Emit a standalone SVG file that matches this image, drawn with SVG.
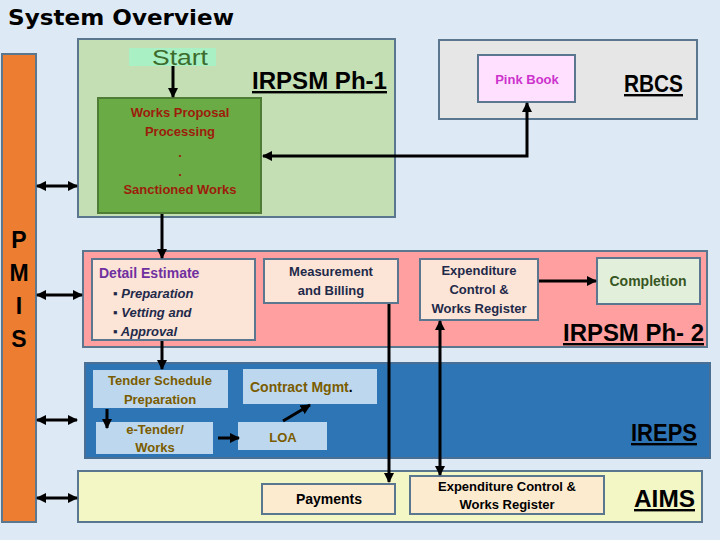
<svg xmlns="http://www.w3.org/2000/svg" width="720" height="540" viewBox="0 0 720 540">
<style>
.t{font-family:"Liberation Sans","Open Sans",sans-serif;font-weight:bold}
.big{font-family:"Liberation Sans",sans-serif;font-size:24px;font-weight:bold;text-decoration:underline;fill:#000}
.bx{stroke:#5b7790;stroke-width:2}
.c{stroke:#000;stroke-width:3;fill:none}
.nv{fill:#1f2a4a;font-size:13px}
.ol{fill:#7a5c00;font-size:13px}
</style>
<defs>
<marker id="ah" viewBox="0 0 10 10" refX="9" refY="5" markerWidth="3.4" markerHeight="3.4" orient="auto-start-reverse">
<path d="M0,0 L10,5 L0,10 z" fill="#000"/>
</marker>
</defs>
<rect width="720" height="540" fill="#dde9f5"/>
<text x="8" y="25" font-family="DejaVu Sans,sans-serif" font-weight="900" font-size="21" textLength="226" lengthAdjust="spacingAndGlyphs" fill="#000">System Overview</text>

<g id="pmis">
<rect x="2" y="54" width="34" height="468" fill="#ed7d31" class="bx"/>
<text class="t" x="19" y="248" font-size="23" text-anchor="middle" fill="#000">P</text>
<text class="t" x="19" y="281" font-size="23" text-anchor="middle" fill="#000">M</text>
<text class="t" x="19" y="314" font-size="23" text-anchor="middle" fill="#000">I</text>
<text class="t" x="19" y="347" font-size="23" text-anchor="middle" fill="#000">S</text>
</g>

<g id="irpsm1">
<rect x="78" y="39" width="317" height="178" fill="#c5dfb4" class="bx"/>
<text class="big" x="252" y="89" font-weight="normal" textLength="135" lengthAdjust="spacingAndGlyphs">IRPSM Ph-1</text>
</g>
<g id="start">
<rect x="129" y="48" width="87" height="18" fill="#a9f1c4"/>
<text x="180" y="65" font-family="Liberation Sans,sans-serif" font-size="22" fill="#3d6b2c" text-anchor="middle" textLength="56" lengthAdjust="spacingAndGlyphs">Start</text>
</g>
<g id="works-proposal">
<rect x="98" y="98" width="163" height="115" fill="#6aab45" stroke="#4f7d36" stroke-width="2"/>
<g class="t" font-size="13" fill="#9c1d0c" text-anchor="middle">
<text x="180" y="117">Works Proposal</text>
<text x="180" y="136">Processing</text>
<text x="180" y="157">.</text>
<text x="180" y="176">.</text>
<text x="180" y="194">Sanctioned Works</text>
</g>
</g>

<g id="rbcs">
<rect x="439" y="40" width="258" height="79" fill="#e6e6e6" class="bx"/>
<text class="big" x="624" y="92" textLength="59" lengthAdjust="spacingAndGlyphs">RBCS</text>
</g>
<g id="pink-book">
<rect x="478" y="55" width="97" height="47" fill="#ffe1ff" class="bx"/>
<text class="t" x="527" y="84" font-size="13" fill="#cc33cc" text-anchor="middle">Pink Book</text>
</g>

<g id="irpsm2">
<rect x="83" y="251" width="624" height="96" fill="#ff9f9f" class="bx"/>
<text class="big" x="563" y="341" textLength="141" lengthAdjust="spacingAndGlyphs">IRPSM Ph- 2</text>
</g>
<g id="detail-estimate">
<rect x="92" y="259" width="163" height="81" fill="#fce4d6" class="bx"/>
<text class="t" x="99" y="278" font-size="14" fill="#7030a0">Detail Estimate</text>
<g class="t nv" font-style="italic">
<text x="113" y="298">▪ Preparation</text>
<text x="113" y="317">▪ Vetting and</text>
<text x="113" y="336">▪ Approval</text>
</g>
</g>
<g id="measurement">
<rect x="264" y="259" width="134" height="44" fill="#fce4d6" class="bx"/>
<text class="t nv" x="331" y="276" text-anchor="middle">Measurement</text>
<text class="t nv" x="331" y="295" text-anchor="middle">and Billing</text>
</g>
<g id="expenditure-ph2">
<rect x="420" y="259" width="118" height="61" fill="#fce4d6" class="bx"/>
<text class="t nv" x="479" y="275" text-anchor="middle">Expenditure</text>
<text class="t nv" x="479" y="294" text-anchor="middle">Control &amp;</text>
<text class="t nv" x="479" y="313" text-anchor="middle">Works Register</text>
</g>
<g id="completion">
<rect x="597" y="258" width="103" height="46" fill="#e2efda" class="bx"/>
<text class="t" x="648" y="286" font-size="14" fill="#375623" text-anchor="middle">Completion</text>
</g>

<g id="ireps">
<rect x="85" y="363" width="625" height="95" fill="#2e75b6" stroke="#4a6f95" stroke-width="2"/>
<text class="big" x="631" y="441" textLength="66" lengthAdjust="spacingAndGlyphs">IREPS</text>
</g>
<g id="tender-schedule">
<rect x="93" y="370" width="135" height="38" fill="#bdd7ee"/>
<text class="t ol" x="160" y="385" text-anchor="middle">Tender Schedule</text>
<text class="t ol" x="160" y="404" text-anchor="middle">Preparation</text>
</g>
<g id="contract-mgmt">
<rect x="243" y="369" width="134" height="35" fill="#bdd7ee"/>
<text class="t" x="250" y="392" font-size="14" fill="#7a5c00">Contract Mgmt<tspan fill="#000">.</tspan></text>
</g>
<g id="e-tender">
<rect x="96" y="422" width="117" height="32" fill="#bdd7ee"/>
<text class="t ol" x="155" y="434" text-anchor="middle">e-Tender/</text>
<text class="t ol" x="155" y="452" text-anchor="middle">Works</text>
</g>
<g id="loa">
<rect x="238" y="422" width="89" height="28" fill="#bdd7ee"/>
<text class="t ol" x="283" y="442" text-anchor="middle">LOA</text>
</g>

<g id="aims">
<rect x="78" y="471" width="624" height="51" fill="#f3f7c6" class="bx"/>
<text class="big" x="634" y="507" textLength="61" lengthAdjust="spacingAndGlyphs">AIMS</text>
</g>
<g id="payments">
<rect x="262" y="484" width="133" height="30" fill="#fdebd0" class="bx"/>
<text class="t" x="329" y="504" font-size="14" fill="#000" text-anchor="middle">Payments</text>
</g>
<g id="expenditure-aims">
<rect x="410" y="476" width="194" height="38" fill="#fdebd0" class="bx"/>
<text class="t" x="507" y="491" font-size="13" fill="#000" text-anchor="middle">Expenditure Control &amp;</text>
<text class="t" x="507" y="509" font-size="13" fill="#000" text-anchor="middle">Works Register</text>
</g>

<g id="connectors">
<line class="c" x1="173" y1="66" x2="173" y2="97" marker-end="url(#ah)"/>
<polyline class="c" points="527,103 527,156 263,156" marker-start="url(#ah)" marker-end="url(#ah)"/>
<line class="c" x1="162" y1="214" x2="162" y2="258" marker-end="url(#ah)"/>
<line class="c" x1="162" y1="341" x2="162" y2="369" marker-end="url(#ah)"/>
<line class="c" x1="539" y1="281" x2="596" y2="281" marker-end="url(#ah)"/>
<line class="c" x1="389" y1="304" x2="389" y2="482" marker-end="url(#ah)"/>
<line class="c" x1="440" y1="321" x2="440" y2="475" marker-start="url(#ah)" marker-end="url(#ah)"/>
<line class="c" x1="107" y1="409" x2="107" y2="428" marker-end="url(#ah)"/>
<line class="c" x1="218" y1="438" x2="239" y2="438" marker-end="url(#ah)"/>
<line class="c" x1="283" y1="421" x2="310" y2="405" marker-end="url(#ah)"/>
<line class="c" x1="37" y1="186" x2="77" y2="186" marker-start="url(#ah)" marker-end="url(#ah)"/>
<line class="c" x1="37" y1="295" x2="82" y2="295" marker-start="url(#ah)" marker-end="url(#ah)"/>
<line class="c" x1="37" y1="420" x2="77" y2="420" marker-start="url(#ah)" marker-end="url(#ah)"/>
<line class="c" x1="37" y1="498" x2="77" y2="498" marker-start="url(#ah)" marker-end="url(#ah)"/>
</g>
</svg>
